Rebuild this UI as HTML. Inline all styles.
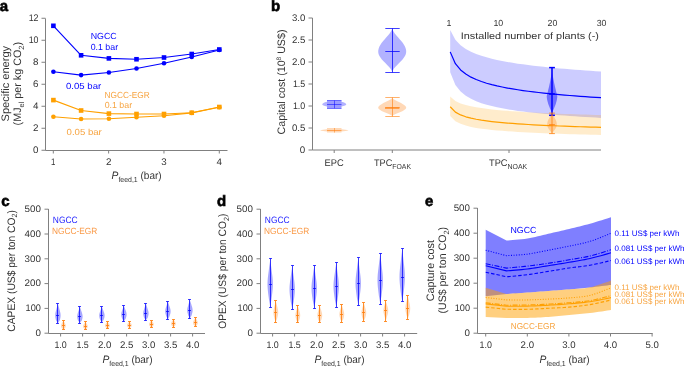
<!DOCTYPE html>
<html><head><meta charset="utf-8"><style>
html,body{margin:0;padding:0;background:#fff;width:685px;height:368px;overflow:hidden}
svg{display:block;will-change:transform;text-rendering:geometricPrecision;font-family:"Liberation Sans",sans-serif}
</style></head><body>
<svg width="685" height="368" viewBox="0 0 685 368">
<rect width="685" height="368" fill="#fff"/>
<text x="-0.2" y="10.9" font-size="15" fill="#000" font-weight="bold" style="stroke:#000;stroke-width:0.6">a</text>
<line x1="45.5" y1="18.5" x2="45.5" y2="150.5" stroke="#808080" stroke-width="1" />
<line x1="45.5" y1="150.5" x2="227.5" y2="150.5" stroke="#808080" stroke-width="1" />
<line x1="41.5" y1="150.25" x2="45.5" y2="150.25" stroke="#808080" stroke-width="1" />
<text x="38.5" y="153.05" font-size="9.5" fill="#333333" text-anchor="end" textLength="5.45" lengthAdjust="spacingAndGlyphs">0</text>
<line x1="41.5" y1="128.25" x2="45.5" y2="128.25" stroke="#808080" stroke-width="1" />
<text x="38.5" y="131.05" font-size="9.5" fill="#333333" text-anchor="end" textLength="5.45" lengthAdjust="spacingAndGlyphs">2</text>
<line x1="41.5" y1="106.25" x2="45.5" y2="106.25" stroke="#808080" stroke-width="1" />
<text x="38.5" y="109.05" font-size="9.5" fill="#333333" text-anchor="end" textLength="5.45" lengthAdjust="spacingAndGlyphs">4</text>
<line x1="41.5" y1="84.25" x2="45.5" y2="84.25" stroke="#808080" stroke-width="1" />
<text x="38.5" y="87.05" font-size="9.5" fill="#333333" text-anchor="end" textLength="5.45" lengthAdjust="spacingAndGlyphs">6</text>
<line x1="41.5" y1="62.25" x2="45.5" y2="62.25" stroke="#808080" stroke-width="1" />
<text x="38.5" y="65.05" font-size="9.5" fill="#333333" text-anchor="end" textLength="5.45" lengthAdjust="spacingAndGlyphs">8</text>
<line x1="41.5" y1="40.25" x2="45.5" y2="40.25" stroke="#808080" stroke-width="1" />
<text x="38.5" y="43.05" font-size="9.5" fill="#333333" text-anchor="end" textLength="9.85" lengthAdjust="spacingAndGlyphs">10</text>
<line x1="41.5" y1="18.25" x2="45.5" y2="18.25" stroke="#808080" stroke-width="1" />
<text x="38.5" y="21.05" font-size="9.5" fill="#333333" text-anchor="end" textLength="9.85" lengthAdjust="spacingAndGlyphs">12</text>
<line x1="53.3" y1="150.5" x2="53.3" y2="153.5" stroke="#808080" stroke-width="1" />
<text x="53.3" y="164.6" font-size="9.5" fill="#333333" text-anchor="middle" textLength="4.4" lengthAdjust="spacingAndGlyphs">1</text>
<line x1="108.63" y1="150.5" x2="108.63" y2="153.5" stroke="#808080" stroke-width="1" />
<text x="108.63" y="164.6" font-size="9.5" fill="#333333" text-anchor="middle" textLength="5.45" lengthAdjust="spacingAndGlyphs">2</text>
<line x1="163.96" y1="150.5" x2="163.96" y2="153.5" stroke="#808080" stroke-width="1" />
<text x="163.96" y="164.6" font-size="9.5" fill="#333333" text-anchor="middle" textLength="5.45" lengthAdjust="spacingAndGlyphs">3</text>
<line x1="219.29" y1="150.5" x2="219.29" y2="153.5" stroke="#808080" stroke-width="1" />
<text x="219.29" y="164.6" font-size="9.5" fill="#333333" text-anchor="middle" textLength="5.45" lengthAdjust="spacingAndGlyphs">4</text>
<text x="111.6" y="179.2" font-size="10" fill="#333333" textLength="50" lengthAdjust="spacingAndGlyphs"><tspan font-style="italic" font-size="10.8">P</tspan><tspan font-size="7.3" dy="3.2">feed,1</tspan><tspan dy="-3.2" font-size="10.5"> (bar)</tspan></text>
<text x="9.2" y="83.65" font-size="10.8" fill="#333333" text-anchor="middle" textLength="75.5" lengthAdjust="spacingAndGlyphs" transform="rotate(-90 9.2 83.65)">Specific energy</text>
<text x="20.8" y="83.65" font-size="10.8" fill="#333333" text-anchor="middle" textLength="83.5" lengthAdjust="spacingAndGlyphs" transform="rotate(-90 20.8 83.65)">(MJ<tspan font-size="7.5" dy="3.5">el</tspan><tspan dy="-3.5"> per kg CO</tspan><tspan font-size="7.5" dy="3.5">2</tspan><tspan dy="-3.5">)</tspan></text>
<polyline points="53.4,25.8 81.1,55.3 108.9,58.4 136.5,59.25 164,57.5 191.75,54 219.3,49.5" fill="none" stroke="#0000ff" stroke-width="1.15" stroke-linejoin="round" />
<rect x="51.1" y="23.5" width="4.6" height="4.6" fill="#0000ff"/>
<rect x="78.8" y="53" width="4.6" height="4.6" fill="#0000ff"/>
<rect x="106.6" y="56.1" width="4.6" height="4.6" fill="#0000ff"/>
<rect x="134.2" y="56.95" width="4.6" height="4.6" fill="#0000ff"/>
<rect x="161.7" y="55.2" width="4.6" height="4.6" fill="#0000ff"/>
<rect x="189.45" y="51.7" width="4.6" height="4.6" fill="#0000ff"/>
<rect x="217" y="47.2" width="4.6" height="4.6" fill="#0000ff"/>
<polyline points="53.4,71.7 81.1,75.1 108.9,72.5 136.5,68.5 164,63.25 191.75,57 219.3,50" fill="none" stroke="#0000ff" stroke-width="1.15" stroke-linejoin="round" />
<circle cx="53.4" cy="71.7" r="2.3" fill="#0000ff"/>
<circle cx="81.1" cy="75.1" r="2.3" fill="#0000ff"/>
<circle cx="108.9" cy="72.5" r="2.3" fill="#0000ff"/>
<circle cx="136.5" cy="68.5" r="2.3" fill="#0000ff"/>
<circle cx="164" cy="63.25" r="2.3" fill="#0000ff"/>
<circle cx="191.75" cy="57" r="2.3" fill="#0000ff"/>
<circle cx="219.3" cy="50" r="2.3" fill="#0000ff"/>
<polyline points="53.4,100.1 81.1,110.5 108.9,113.6 136.5,114 164,114 191.75,112.75 219.3,107" fill="none" stroke="#ffa000" stroke-width="1.15" stroke-linejoin="round" />
<rect x="51.1" y="97.8" width="4.6" height="4.6" fill="#ffa000"/>
<rect x="78.8" y="108.2" width="4.6" height="4.6" fill="#ffa000"/>
<rect x="106.6" y="111.3" width="4.6" height="4.6" fill="#ffa000"/>
<rect x="134.2" y="111.7" width="4.6" height="4.6" fill="#ffa000"/>
<rect x="161.7" y="111.7" width="4.6" height="4.6" fill="#ffa000"/>
<rect x="189.45" y="110.45" width="4.6" height="4.6" fill="#ffa000"/>
<rect x="217" y="104.7" width="4.6" height="4.6" fill="#ffa000"/>
<polyline points="53.4,116.75 81.1,119 108.9,118.7 136.5,117.25 164,115.75 191.75,112.9 219.3,107.2" fill="none" stroke="#ffa000" stroke-width="1.15" stroke-linejoin="round" />
<circle cx="53.4" cy="116.75" r="2.3" fill="#ffa000"/>
<circle cx="81.1" cy="119" r="2.3" fill="#ffa000"/>
<circle cx="108.9" cy="118.7" r="2.3" fill="#ffa000"/>
<circle cx="136.5" cy="117.25" r="2.3" fill="#ffa000"/>
<circle cx="164" cy="115.75" r="2.3" fill="#ffa000"/>
<circle cx="191.75" cy="112.9" r="2.3" fill="#ffa000"/>
<circle cx="219.3" cy="107.2" r="2.3" fill="#ffa000"/>
<text x="90.7" y="39.4" font-size="8.8" fill="#0000ff">NGCC</text>
<text x="90.7" y="49.8" font-size="8.8" fill="#0000ff">0.1 bar</text>
<text x="66" y="88.8" font-size="8.8" fill="#0000ff" textLength="35.2" lengthAdjust="spacingAndGlyphs">0.05 bar</text>
<text x="104.6" y="97.7" font-size="8.8" fill="#f7a440" textLength="45.2" lengthAdjust="spacingAndGlyphs">NGCC-EGR</text>
<text x="104.7" y="107.8" font-size="8.8" fill="#f7a440">0.1 bar</text>
<text x="66.6" y="135.2" font-size="8.8" fill="#f7a440" textLength="35.2" lengthAdjust="spacingAndGlyphs">0.05 bar</text>
<text x="270.9" y="11" font-size="15" fill="#000" font-weight="bold" style="stroke:#000;stroke-width:0.6">b</text>
<line x1="312.5" y1="18" x2="312.5" y2="150" stroke="#808080" stroke-width="1" />
<line x1="312.5" y1="150" x2="601" y2="150" stroke="#808080" stroke-width="1" />
<line x1="308.5" y1="150" x2="312.5" y2="150" stroke="#808080" stroke-width="1" />
<text x="305.3" y="152.8" font-size="9.5" fill="#333333" text-anchor="end" textLength="5.45" lengthAdjust="spacingAndGlyphs">0</text>
<line x1="308.5" y1="128" x2="312.5" y2="128" stroke="#808080" stroke-width="1" />
<text x="305.3" y="130.8" font-size="9.5" fill="#333333" text-anchor="end" textLength="13.4" lengthAdjust="spacingAndGlyphs">0.5</text>
<line x1="308.5" y1="106" x2="312.5" y2="106" stroke="#808080" stroke-width="1" />
<text x="305.3" y="108.8" font-size="9.5" fill="#333333" text-anchor="end" textLength="12.35" lengthAdjust="spacingAndGlyphs">1.0</text>
<line x1="308.5" y1="84" x2="312.5" y2="84" stroke="#808080" stroke-width="1" />
<text x="305.3" y="86.8" font-size="9.5" fill="#333333" text-anchor="end" textLength="12.35" lengthAdjust="spacingAndGlyphs">1.5</text>
<line x1="308.5" y1="62" x2="312.5" y2="62" stroke="#808080" stroke-width="1" />
<text x="305.3" y="64.8" font-size="9.5" fill="#333333" text-anchor="end" textLength="13.4" lengthAdjust="spacingAndGlyphs">2.0</text>
<line x1="308.5" y1="40" x2="312.5" y2="40" stroke="#808080" stroke-width="1" />
<text x="305.3" y="42.8" font-size="9.5" fill="#333333" text-anchor="end" textLength="13.4" lengthAdjust="spacingAndGlyphs">2.5</text>
<line x1="308.5" y1="18" x2="312.5" y2="18" stroke="#808080" stroke-width="1" />
<text x="305.3" y="20.8" font-size="9.5" fill="#333333" text-anchor="end" textLength="13.4" lengthAdjust="spacingAndGlyphs">3.0</text>
<line x1="334.2" y1="150" x2="334.2" y2="153" stroke="#808080" stroke-width="1" />
<line x1="392.3" y1="150" x2="392.3" y2="153" stroke="#808080" stroke-width="1" />
<line x1="509" y1="150" x2="509" y2="153" stroke="#808080" stroke-width="1" />
<text x="334.2" y="165.6" font-size="9.6" fill="#333333" text-anchor="middle" textLength="19.2" lengthAdjust="spacingAndGlyphs">EPC</text>
<text x="374" y="165.6" font-size="9.6" fill="#333333" textLength="37" lengthAdjust="spacingAndGlyphs">TPC<tspan font-size="7.2" dy="3">FOAK</tspan></text>
<text x="489" y="165.6" font-size="9.6" fill="#333333" textLength="38.2" lengthAdjust="spacingAndGlyphs">TPC<tspan font-size="7.2" dy="3">NOAK</tspan></text>
<text x="284.8" y="82" font-size="10.8" fill="#333333" text-anchor="middle" textLength="105" lengthAdjust="spacingAndGlyphs" transform="rotate(-90 284.8 82)">Capital cost (10<tspan font-size="6.5" dy="-3.8">8</tspan><tspan dy="3.8"> US$)</tspan></text>
<polygon points="450.2,29.88 455.4,39.85 460.6,45.29 465.8,48.99 471,51.77 476.2,53.98 481.4,55.82 486.6,57.37 491.8,58.73 497,59.92 502.2,60.99 507.4,61.95 512.6,62.83 517.8,63.63 523,64.37 528.2,65.06 533.4,65.7 538.6,66.3 543.8,66.87 549,67.4 554.2,67.9 559.4,68.38 564.6,68.83 569.8,69.26 575,69.67 580.2,70.06 585.4,70.44 590.6,70.8 595.8,71.15 601,71.48 601,117.91 595.8,117.62 590.6,117.33 585.4,117.02 580.2,116.69 575,116.35 569.8,115.99 564.6,115.61 559.4,115.21 554.2,114.79 549,114.34 543.8,113.86 538.6,113.35 533.4,112.8 528.2,112.21 523,111.57 517.8,110.88 512.6,110.11 507.4,109.28 502.2,108.34 497,107.3 491.8,106.11 486.6,104.75 481.4,103.15 476.2,101.23 471,98.87 465.8,95.81 460.6,91.6 455.4,85.11 450.2,72.3" fill="#0000ff" fill-opacity="0.2"/>
<polygon points="450.2,96.58 455.4,101.02 460.6,103.44 465.8,105.08 471,106.32 476.2,107.3 481.4,108.12 486.6,108.81 491.8,109.41 497,109.94 502.2,110.42 507.4,110.85 512.6,111.24 517.8,111.59 523,111.92 528.2,112.23 533.4,112.51 538.6,112.78 543.8,113.03 549,113.27 554.2,113.49 559.4,113.7 564.6,113.9 569.8,114.1 575,114.28 580.2,114.45 585.4,114.62 590.6,114.78 595.8,114.94 601,115.08 601,134.96 595.8,134.84 590.6,134.71 585.4,134.58 580.2,134.44 575,134.29 569.8,134.14 564.6,133.97 559.4,133.8 554.2,133.62 549,133.43 543.8,133.22 538.6,133 533.4,132.77 528.2,132.52 523,132.24 517.8,131.95 512.6,131.62 507.4,131.27 502.2,130.87 497,130.43 491.8,129.93 486.6,129.35 481.4,128.68 476.2,127.88 471,126.89 465.8,125.61 460.6,123.87 455.4,121.2 450.2,115.99" fill="#ffa000" fill-opacity="0.2"/>
<polyline points="450.2,51.88 455.4,63.69 460.6,69.93 465.8,74.08 471,77.15 476.2,79.56 481.4,81.54 486.6,83.21 491.8,84.65 497,85.91 502.2,87.03 507.4,88.04 512.6,88.95 517.8,89.78 523,90.55 528.2,91.25 533.4,91.91 538.6,92.52 543.8,93.09 549,93.63 554.2,94.13 559.4,94.61 564.6,95.07 569.8,95.5 575,95.91 580.2,96.3 585.4,96.67 590.6,97.03 595.8,97.37 601,97.7" fill="none" stroke="#0000ff" stroke-width="1.2" stroke-linejoin="round" />
<polyline points="450.2,106.79 455.4,112.12 460.6,114.93 465.8,116.8 471,118.18 476.2,119.26 481.4,120.15 486.6,120.89 491.8,121.54 497,122.1 502.2,122.6 507.4,123.05 512.6,123.46 517.8,123.83 523,124.17 528.2,124.49 533.4,124.78 538.6,125.05 543.8,125.31 549,125.54 554.2,125.77 559.4,125.98 564.6,126.19 569.8,126.38 575,126.56 580.2,126.73 585.4,126.9 590.6,127.06 595.8,127.21 601,127.36" fill="none" stroke="#ffa000" stroke-width="1.2" stroke-linejoin="round" />
<text x="449" y="25.8" font-size="8.8" fill="#333333" text-anchor="middle">1</text>
<text x="498.3" y="25.8" font-size="8.8" fill="#333333" text-anchor="middle">10</text>
<text x="552.5" y="25.8" font-size="8.8" fill="#333333" text-anchor="middle">20</text>
<text x="601.6" y="25.8" font-size="8.8" fill="#333333" text-anchor="middle">30</text>
<text x="460.7" y="38.5" font-size="9.5" fill="#333333" textLength="138.3" lengthAdjust="spacingAndGlyphs">Installed number of plants (-)</text>
<path d="M327,100.5 H341.5 V101.8 A14.1,3.2 0 0 1 341.5,106.6 V108.3 H327 V106.6 A14.1,3.2 0 0 1 327,101.8 Z" fill="#0000ff" fill-opacity="0.3"/>
<rect x="327" y="100.5" width="14.5" height="7.8" fill="#0000ff" fill-opacity="0.12"/>
<line x1="334.5" y1="100.5" x2="334.5" y2="108.3" stroke="#0000ff" stroke-width="1" stroke-opacity="0.5"/>
<line x1="327" y1="100.5" x2="341.5" y2="100.5" stroke="#0000ff" stroke-width="1" stroke-opacity="0.5"/>
<line x1="327" y1="108.5" x2="341.5" y2="108.5" stroke="#0000ff" stroke-width="1" stroke-opacity="0.5"/>
<line x1="327" y1="104.5" x2="341.5" y2="104.5" stroke="#0000ff" stroke-width="1" stroke-opacity="0.5"/>
<path d="M327,128 L341.5,128 L341.5,129.3 C344,129.6 347,130 348.5,130.4 C347,130.8 344,131.2 341.5,131.5 L341.5,132.6 L327,132.6 L327,131.5 C324.5,131.2 321.5,130.8 320,130.4 C321.5,130 324.5,129.6 327,129.3 Z" fill="#ff7f0e" fill-opacity="0.3"/>
<line x1="327" y1="130.5" x2="341.5" y2="130.5" stroke="#ff7f0e" stroke-width="1" stroke-opacity="0.6"/>
<line x1="334.5" y1="128" x2="334.5" y2="132.6" stroke="#ff7f0e" stroke-width="1" stroke-opacity="0.5"/>
<polygon points="392.2,28.15 392.69,29.99 393.67,31.83 394.96,33.67 396.44,35.51 398.04,37.35 399.66,39.19 401.24,41.03 402.69,42.87 403.95,44.71 404.97,46.55 405.7,48.39 406.11,50.22 406.18,52.06 405.85,53.9 405.1,55.74 403.98,57.58 402.54,59.42 400.88,61.26 399.08,63.1 397.25,64.94 395.51,66.78 393.97,68.62 392.79,70.46 392.2,72.3 392.2,72.3 391.61,70.46 390.43,68.62 388.89,66.78 387.15,64.94 385.32,63.1 383.52,61.26 381.86,59.42 380.42,57.58 379.3,55.74 378.55,53.9 378.22,52.06 378.29,50.22 378.7,48.39 379.43,46.55 380.45,44.71 381.71,42.87 383.16,41.03 384.74,39.19 386.36,37.35 387.96,35.51 389.44,33.67 390.73,31.83 391.71,29.99 392.2,28.15" fill="#0000ff" fill-opacity="0.3"/>
<line x1="392.5" y1="28.5" x2="392.5" y2="72.5" stroke="#0000ff" stroke-width="1" stroke-opacity="0.75"/>
<line x1="385.3" y1="28.5" x2="399.7" y2="28.5" stroke="#0000ff" stroke-width="1" stroke-opacity="0.75"/>
<line x1="385.3" y1="72.5" x2="399.7" y2="72.5" stroke="#0000ff" stroke-width="1" stroke-opacity="0.75"/>
<line x1="385.3" y1="51.5" x2="399.7" y2="51.5" stroke="#0000ff" stroke-width="1" stroke-opacity="0.75"/>
<polygon points="392.2,97.7 392.68,98.48 393.63,99.25 394.88,100.03 396.33,100.8 397.89,101.58 399.48,102.35 401.04,103.12 402.48,103.9 403.76,104.67 404.8,105.45 405.58,106.22 406.05,107 406.2,107.78 405.96,108.55 405.27,109.33 404.19,110.1 402.78,110.88 401.11,111.65 399.28,112.42 397.41,113.2 395.61,113.97 394.03,114.75 392.81,115.53 392.2,116.3 392.2,116.3 391.59,115.53 390.37,114.75 388.79,113.97 386.99,113.2 385.12,112.42 383.29,111.65 381.62,110.88 380.21,110.1 379.13,109.33 378.44,108.55 378.2,107.78 378.35,107 378.82,106.22 379.6,105.45 380.64,104.67 381.92,103.9 383.36,103.12 384.92,102.35 386.51,101.58 388.07,100.8 389.52,100.03 390.77,99.25 391.72,98.48 392.2,97.7" fill="#ff7f0e" fill-opacity="0.3"/>
<line x1="392.5" y1="97.5" x2="392.5" y2="116.5" stroke="#ff7f0e" stroke-width="1" stroke-opacity="0.6"/>
<line x1="385.3" y1="97.5" x2="399.7" y2="97.5" stroke="#ff7f0e" stroke-width="1" stroke-opacity="0.6"/>
<line x1="385.3" y1="116.5" x2="399.7" y2="116.5" stroke="#ff7f0e" stroke-width="1" stroke-opacity="0.6"/>
<line x1="385.3" y1="107.5" x2="399.7" y2="107.5" stroke="#ff7f0e" stroke-width="1" stroke-opacity="0.6"/>
<line x1="385" y1="108.1" x2="399.4" y2="108.1" stroke="#ff7f0e" stroke-width="1.6" stroke-opacity="0.7"/>
<polygon points="552.4,67.6 552.4,68.39 552.4,69.19 552.4,69.98 552.4,70.78 552.4,71.57 552.42,72.37 552.5,73.16 552.59,73.96 552.69,74.75 552.81,75.55 552.93,76.34 553.06,77.14 553.2,77.94 553.34,78.73 553.48,79.52 553.64,80.32 553.79,81.11 553.95,81.91 554.12,82.7 554.28,83.5 554.45,84.29 554.63,85.09 554.81,85.88 554.99,86.68 555.17,87.47 555.36,88.27 555.55,89.06 555.74,89.86 555.93,90.66 556.13,91.45 556.33,92.25 556.53,93.04 556.73,93.83 556.94,94.63 557.15,95.42 557.3,96.22 557.25,97.02 557.17,97.81 557.06,98.6 556.92,99.4 556.76,100.19 556.57,100.99 556.37,101.78 556.14,102.58 555.9,103.38 555.65,104.17 555.37,104.97 555.08,105.76 554.77,106.55 554.45,107.35 554.12,108.14 553.77,108.94 553.41,109.73 553.03,110.53 552.64,111.32 552,112.12 552,112.91 552,113.71 552,114.5 552,115.3 552,115.3 552,114.5 552,113.71 552,112.91 552,112.12 551.36,111.32 550.97,110.53 550.59,109.73 550.23,108.94 549.88,108.14 549.55,107.35 549.23,106.55 548.92,105.76 548.63,104.97 548.35,104.17 548.1,103.38 547.86,102.58 547.63,101.78 547.43,100.99 547.24,100.19 547.08,99.4 546.94,98.6 546.83,97.81 546.75,97.02 546.7,96.22 546.85,95.42 547.06,94.63 547.27,93.83 547.47,93.04 547.67,92.25 547.87,91.45 548.07,90.66 548.26,89.86 548.45,89.06 548.64,88.27 548.83,87.47 549.01,86.68 549.19,85.88 549.37,85.09 549.55,84.29 549.72,83.5 549.88,82.7 550.05,81.91 550.21,81.11 550.36,80.32 550.52,79.52 550.66,78.73 550.8,77.94 550.94,77.14 551.07,76.34 551.19,75.55 551.31,74.75 551.41,73.96 551.5,73.16 551.58,72.37 551.6,71.57 551.6,70.78 551.6,69.98 551.6,69.19 551.6,68.39 551.6,67.6" fill="#0000ff" fill-opacity="0.45"/>
<line x1="552" y1="67.6" x2="552" y2="115.3" stroke="#0000ff" stroke-width="1.5" />
<line x1="549.1" y1="67.6" x2="554.9" y2="67.6" stroke="#0000ff" stroke-width="1.5" />
<line x1="549.1" y1="115.3" x2="554.9" y2="115.3" stroke="#0000ff" stroke-width="1.5" />
<line x1="549.1" y1="94" x2="554.9" y2="94" stroke="#0000ff" stroke-width="1.5" />
<polygon points="552,113.1 552.2,113.61 552.45,114.12 552.73,114.64 553.03,115.15 553.33,115.66 553.64,116.17 553.94,116.69 554.25,117.2 554.54,117.71 554.83,118.22 555.11,118.74 555.37,119.25 555.61,119.76 555.84,120.27 556.05,120.79 556.23,121.3 556.39,121.81 556.53,122.32 556.63,122.84 556.72,123.35 556.77,123.86 556.8,124.38 556.79,124.89 556.74,125.4 556.65,125.91 556.51,126.42 556.33,126.94 556.11,127.45 555.85,127.96 555.56,128.47 555.24,128.99 554.89,129.5 554.53,130.01 554.15,130.53 553.76,131.04 553.36,131.55 552.98,132.06 552.6,132.57 552.26,133.09 552,133.6 552,133.6 551.74,133.09 551.4,132.57 551.02,132.06 550.64,131.55 550.24,131.04 549.85,130.53 549.47,130.01 549.11,129.5 548.76,128.99 548.44,128.47 548.15,127.96 547.89,127.45 547.67,126.94 547.49,126.42 547.35,125.91 547.26,125.4 547.21,124.89 547.2,124.38 547.23,123.86 547.28,123.35 547.37,122.84 547.47,122.32 547.61,121.81 547.77,121.3 547.95,120.79 548.16,120.27 548.39,119.76 548.63,119.25 548.89,118.74 549.17,118.22 549.46,117.71 549.75,117.2 550.06,116.69 550.36,116.17 550.67,115.66 550.97,115.15 551.27,114.64 551.55,114.12 551.8,113.61 552,113.1" fill="#ff7f0e" fill-opacity="0.3"/>
<line x1="552" y1="113.1" x2="552" y2="133.6" stroke="#ff7f0e" stroke-width="1" stroke-opacity="0.8"/>
<line x1="549.1" y1="113.1" x2="554.9" y2="113.1" stroke="#ff7f0e" stroke-width="1" stroke-opacity="0.8"/>
<line x1="549.1" y1="133.6" x2="554.9" y2="133.6" stroke="#ff7f0e" stroke-width="1" stroke-opacity="0.8"/>
<line x1="549.1" y1="124.6" x2="554.9" y2="124.6" stroke="#ff7f0e" stroke-width="1" stroke-opacity="0.8"/>
<text x="1.2" y="205.8" font-size="15" fill="#000" font-weight="bold" style="stroke:#000;stroke-width:0.6">c</text>
<line x1="48.5" y1="209" x2="48.5" y2="333.5" stroke="#808080" stroke-width="1" />
<line x1="48.5" y1="333.5" x2="205" y2="333.5" stroke="#808080" stroke-width="1" />
<line x1="44.5" y1="333.2" x2="48.5" y2="333.2" stroke="#808080" stroke-width="1" />
<text x="40.9" y="336" font-size="9.5" fill="#333333" text-anchor="end" textLength="5.45" lengthAdjust="spacingAndGlyphs">0</text>
<line x1="44.5" y1="308.4" x2="48.5" y2="308.4" stroke="#808080" stroke-width="1" />
<text x="40.9" y="311.2" font-size="9.5" fill="#333333" text-anchor="end" textLength="15.3" lengthAdjust="spacingAndGlyphs">100</text>
<line x1="44.5" y1="283.6" x2="48.5" y2="283.6" stroke="#808080" stroke-width="1" />
<text x="40.9" y="286.4" font-size="9.5" fill="#333333" text-anchor="end" textLength="16.35" lengthAdjust="spacingAndGlyphs">200</text>
<line x1="44.5" y1="258.8" x2="48.5" y2="258.8" stroke="#808080" stroke-width="1" />
<text x="40.9" y="261.6" font-size="9.5" fill="#333333" text-anchor="end" textLength="16.35" lengthAdjust="spacingAndGlyphs">300</text>
<line x1="44.5" y1="234" x2="48.5" y2="234" stroke="#808080" stroke-width="1" />
<text x="40.9" y="236.8" font-size="9.5" fill="#333333" text-anchor="end" textLength="16.35" lengthAdjust="spacingAndGlyphs">400</text>
<line x1="44.5" y1="209.2" x2="48.5" y2="209.2" stroke="#808080" stroke-width="1" />
<text x="40.9" y="212" font-size="9.5" fill="#333333" text-anchor="end" textLength="16.35" lengthAdjust="spacingAndGlyphs">500</text>
<line x1="60.6" y1="333.5" x2="60.6" y2="336.5" stroke="#808080" stroke-width="1" />
<text x="60.6" y="347.9" font-size="9.5" fill="#333333" text-anchor="middle" textLength="12.35" lengthAdjust="spacingAndGlyphs">1.0</text>
<line x1="82.6" y1="333.5" x2="82.6" y2="336.5" stroke="#808080" stroke-width="1" />
<text x="82.6" y="347.9" font-size="9.5" fill="#333333" text-anchor="middle" textLength="12.35" lengthAdjust="spacingAndGlyphs">1.5</text>
<line x1="104.6" y1="333.5" x2="104.6" y2="336.5" stroke="#808080" stroke-width="1" />
<text x="104.6" y="347.9" font-size="9.5" fill="#333333" text-anchor="middle" textLength="13.4" lengthAdjust="spacingAndGlyphs">2.0</text>
<line x1="126.6" y1="333.5" x2="126.6" y2="336.5" stroke="#808080" stroke-width="1" />
<text x="126.6" y="347.9" font-size="9.5" fill="#333333" text-anchor="middle" textLength="13.4" lengthAdjust="spacingAndGlyphs">2.5</text>
<line x1="148.6" y1="333.5" x2="148.6" y2="336.5" stroke="#808080" stroke-width="1" />
<text x="148.6" y="347.9" font-size="9.5" fill="#333333" text-anchor="middle" textLength="13.4" lengthAdjust="spacingAndGlyphs">3.0</text>
<line x1="170.6" y1="333.5" x2="170.6" y2="336.5" stroke="#808080" stroke-width="1" />
<text x="170.6" y="347.9" font-size="9.5" fill="#333333" text-anchor="middle" textLength="13.4" lengthAdjust="spacingAndGlyphs">3.5</text>
<line x1="192.6" y1="333.5" x2="192.6" y2="336.5" stroke="#808080" stroke-width="1" />
<text x="192.6" y="347.9" font-size="9.5" fill="#333333" text-anchor="middle" textLength="13.4" lengthAdjust="spacingAndGlyphs">4.0</text>
<text x="102.5" y="363.1" font-size="10" fill="#333333" textLength="50" lengthAdjust="spacingAndGlyphs"><tspan font-style="italic" font-size="10.8">P</tspan><tspan font-size="7.3" dy="3.2">feed,1</tspan><tspan dy="-3.2" font-size="10.5"> (bar)</tspan></text>
<text x="14.6" y="270.9" font-size="10.8" fill="#333333" text-anchor="middle" textLength="121.5" lengthAdjust="spacingAndGlyphs" transform="rotate(-90 14.6 270.9)">CAPEX (US$ per ton CO<tspan font-size="7.5" dy="2.5">2</tspan><tspan dy="-2.5">)</tspan></text>
<text x="52.8" y="223" font-size="9.2" fill="#2222ff" textLength="24.8" lengthAdjust="spacingAndGlyphs">NGCC</text>
<text x="52" y="233.6" font-size="9.0" fill="#fa9a48" textLength="45.3" lengthAdjust="spacingAndGlyphs">NGCC-EGR</text>
<polygon points="57.94,303.3 58.06,304.13 58.24,304.97 58.51,305.8 58.75,306.63 58.95,307.47 59.17,308.3 59.4,309.13 59.63,309.97 59.86,310.8 60.08,311.63 60.27,312.47 60.43,313.3 60.54,314.13 60.59,314.97 60.59,315.8 60.54,316.63 60.43,317.47 60.28,318.3 60.09,319.13 59.87,319.97 59.47,320.8 58.88,321.63 58.41,322.47 58.06,323.3 57.74,323.3 57.39,322.47 56.92,321.63 56.33,320.8 55.93,319.97 55.71,319.13 55.52,318.3 55.37,317.47 55.26,316.63 55.21,315.8 55.21,314.97 55.26,314.13 55.37,313.3 55.53,312.47 55.72,311.63 55.94,310.8 56.17,309.97 56.4,309.13 56.63,308.3 56.85,307.47 57.05,306.63 57.29,305.8 57.56,304.97 57.74,304.13 57.86,303.3" fill="#0000ff" fill-opacity="0.35"/>
<line x1="57.5" y1="303.5" x2="57.5" y2="323.5" stroke="#0000ff" stroke-width="1" stroke-opacity="0.75"/>
<line x1="56" y1="303.5" x2="59" y2="303.5" stroke="#0000ff" stroke-width="1" stroke-opacity="0.75"/>
<line x1="56" y1="323.5" x2="59" y2="323.5" stroke="#0000ff" stroke-width="1" stroke-opacity="0.75"/>
<line x1="56" y1="315.5" x2="59" y2="315.5" stroke="#0000ff" stroke-width="1" stroke-opacity="0.75"/>
<polygon points="79.94,306.3 80.06,307 80.24,307.69 80.5,308.39 80.74,309.08 80.94,309.78 81.15,310.48 81.38,311.17 81.61,311.87 81.85,312.56 82.06,313.26 82.25,313.95 82.41,314.65 82.53,315.35 82.59,316.04 82.6,316.74 82.55,317.43 82.45,318.13 82.31,318.82 82.13,319.52 81.92,320.22 81.51,320.91 80.91,321.61 80.43,322.3 80.07,323 79.73,323 79.37,322.3 78.89,321.61 78.29,320.91 77.88,320.22 77.67,319.52 77.49,318.82 77.35,318.13 77.25,317.43 77.2,316.74 77.21,316.04 77.27,315.35 77.39,314.65 77.55,313.95 77.74,313.26 77.95,312.56 78.19,311.87 78.42,311.17 78.65,310.48 78.86,309.78 79.06,309.08 79.3,308.39 79.56,307.69 79.74,307 79.86,306.3" fill="#0000ff" fill-opacity="0.35"/>
<line x1="79.5" y1="306.5" x2="79.5" y2="323.5" stroke="#0000ff" stroke-width="1" stroke-opacity="0.75"/>
<line x1="78" y1="306.5" x2="81" y2="306.5" stroke="#0000ff" stroke-width="1" stroke-opacity="0.75"/>
<line x1="78" y1="323.5" x2="81" y2="323.5" stroke="#0000ff" stroke-width="1" stroke-opacity="0.75"/>
<line x1="78" y1="316.5" x2="81" y2="316.5" stroke="#0000ff" stroke-width="1" stroke-opacity="0.75"/>
<polygon points="101.94,306.3 102.06,306.97 102.25,307.64 102.53,308.31 102.79,308.98 103,309.65 103.23,310.32 103.47,311 103.72,311.67 103.96,312.34 104.18,313.01 104.36,313.68 104.49,314.35 104.58,315.02 104.6,315.69 104.56,316.36 104.46,317.03 104.31,317.7 104.12,318.38 103.9,319.05 103.65,319.72 103.26,320.39 102.72,321.06 102.32,321.73 102.02,322.4 101.78,322.4 101.48,321.73 101.08,321.06 100.54,320.39 100.15,319.72 99.9,319.05 99.68,318.38 99.49,317.7 99.34,317.03 99.24,316.36 99.2,315.69 99.22,315.02 99.31,314.35 99.44,313.68 99.62,313.01 99.84,312.34 100.08,311.67 100.33,311 100.57,310.32 100.8,309.65 101.01,308.98 101.27,308.31 101.55,307.64 101.74,306.97 101.86,306.3" fill="#0000ff" fill-opacity="0.35"/>
<line x1="101.5" y1="306.5" x2="101.5" y2="322.5" stroke="#0000ff" stroke-width="1" stroke-opacity="0.75"/>
<line x1="100" y1="306.5" x2="103" y2="306.5" stroke="#0000ff" stroke-width="1" stroke-opacity="0.75"/>
<line x1="100" y1="322.5" x2="103" y2="322.5" stroke="#0000ff" stroke-width="1" stroke-opacity="0.75"/>
<line x1="100" y1="315.5" x2="103" y2="315.5" stroke="#0000ff" stroke-width="1" stroke-opacity="0.75"/>
<polygon points="123.94,305.4 124.06,306.07 124.25,306.74 124.54,307.41 124.8,308.08 125.02,308.75 125.26,309.42 125.51,310.1 125.76,310.77 126,311.44 126.22,312.11 126.4,312.78 126.52,313.45 126.59,314.12 126.59,314.79 126.53,315.46 126.42,316.13 126.24,316.8 126.03,317.48 125.8,318.15 125.55,318.82 125.15,319.49 124.65,320.16 124.27,320.83 124.01,321.5 123.79,321.5 123.53,320.83 123.15,320.16 122.65,319.49 122.25,318.82 122,318.15 121.77,317.48 121.56,316.8 121.38,316.13 121.27,315.46 121.21,314.79 121.21,314.12 121.28,313.45 121.4,312.78 121.58,312.11 121.8,311.44 122.04,310.77 122.29,310.1 122.54,309.42 122.78,308.75 123,308.08 123.26,307.41 123.55,306.74 123.74,306.07 123.86,305.4" fill="#0000ff" fill-opacity="0.35"/>
<line x1="123.5" y1="305.5" x2="123.5" y2="321.5" stroke="#0000ff" stroke-width="1" stroke-opacity="0.75"/>
<line x1="122" y1="305.5" x2="125" y2="305.5" stroke="#0000ff" stroke-width="1" stroke-opacity="0.75"/>
<line x1="122" y1="321.5" x2="125" y2="321.5" stroke="#0000ff" stroke-width="1" stroke-opacity="0.75"/>
<line x1="122" y1="314.5" x2="125" y2="314.5" stroke="#0000ff" stroke-width="1" stroke-opacity="0.75"/>
<polygon points="145.94,303.3 146.06,304.01 146.25,304.72 146.52,305.43 146.76,306.13 146.97,306.84 147.19,307.55 147.43,308.26 147.67,308.97 147.9,309.68 148.12,310.38 148.31,311.09 148.45,311.8 148.55,312.51 148.6,313.22 148.58,313.93 148.51,314.63 148.39,315.34 148.22,316.05 148.02,316.76 147.79,317.47 147.39,318.18 146.82,318.88 146.37,319.59 146.05,320.3 145.75,320.3 145.43,319.59 144.98,318.88 144.41,318.18 144.01,317.47 143.78,316.76 143.58,316.05 143.41,315.34 143.29,314.63 143.22,313.93 143.2,313.22 143.25,312.51 143.35,311.8 143.49,311.09 143.68,310.38 143.9,309.68 144.13,308.97 144.37,308.26 144.61,307.55 144.83,306.84 145.04,306.13 145.28,305.43 145.55,304.72 145.74,304.01 145.86,303.3" fill="#0000ff" fill-opacity="0.35"/>
<line x1="145.5" y1="303.5" x2="145.5" y2="320.5" stroke="#0000ff" stroke-width="1" stroke-opacity="0.75"/>
<line x1="144" y1="303.5" x2="147" y2="303.5" stroke="#0000ff" stroke-width="1" stroke-opacity="0.75"/>
<line x1="144" y1="320.5" x2="147" y2="320.5" stroke="#0000ff" stroke-width="1" stroke-opacity="0.75"/>
<line x1="144" y1="313.5" x2="147" y2="313.5" stroke="#0000ff" stroke-width="1" stroke-opacity="0.75"/>
<polygon points="167.94,301.2 168.06,301.96 168.26,302.72 168.55,303.49 168.82,304.25 169.05,305.01 169.3,305.77 169.56,306.54 169.81,307.3 170.05,308.06 170.27,308.82 170.43,309.59 170.55,310.35 170.6,311.11 170.58,311.88 170.5,312.64 170.36,313.4 170.16,314.16 169.93,314.93 169.68,315.69 169.42,316.45 169.04,317.21 168.57,317.98 168.23,318.74 167.99,319.5 167.81,319.5 167.57,318.74 167.23,317.98 166.76,317.21 166.38,316.45 166.12,315.69 165.87,314.93 165.64,314.16 165.44,313.4 165.3,312.64 165.22,311.88 165.2,311.11 165.25,310.35 165.37,309.59 165.53,308.82 165.75,308.06 165.99,307.3 166.24,306.54 166.5,305.77 166.75,305.01 166.98,304.25 167.25,303.49 167.54,302.72 167.74,301.96 167.86,301.2" fill="#0000ff" fill-opacity="0.35"/>
<line x1="167.5" y1="301.5" x2="167.5" y2="319.5" stroke="#0000ff" stroke-width="1" stroke-opacity="0.75"/>
<line x1="166" y1="301.5" x2="169" y2="301.5" stroke="#0000ff" stroke-width="1" stroke-opacity="0.75"/>
<line x1="166" y1="319.5" x2="169" y2="319.5" stroke="#0000ff" stroke-width="1" stroke-opacity="0.75"/>
<line x1="166" y1="311.5" x2="169" y2="311.5" stroke="#0000ff" stroke-width="1" stroke-opacity="0.75"/>
<polygon points="189.94,299.6 190.06,300.39 190.26,301.18 190.54,301.98 190.81,302.77 191.03,303.56 191.27,304.35 191.52,305.14 191.77,305.93 192.01,306.73 192.23,307.52 192.4,308.31 192.53,309.1 192.59,309.89 192.59,310.68 192.53,311.48 192.41,312.27 192.23,313.06 192.02,313.85 191.78,314.64 191.53,315.43 191.14,316.23 190.64,317.02 190.27,317.81 190.01,318.6 189.79,318.6 189.53,317.81 189.16,317.02 188.66,316.23 188.27,315.43 188.02,314.64 187.78,313.85 187.57,313.06 187.39,312.27 187.27,311.48 187.21,310.68 187.21,309.89 187.27,309.1 187.4,308.31 187.57,307.52 187.79,306.73 188.03,305.93 188.28,305.14 188.53,304.35 188.77,303.56 188.99,302.77 189.26,301.98 189.54,301.18 189.74,300.39 189.86,299.6" fill="#0000ff" fill-opacity="0.35"/>
<line x1="189.5" y1="299.5" x2="189.5" y2="318.5" stroke="#0000ff" stroke-width="1" stroke-opacity="0.75"/>
<line x1="188" y1="299.5" x2="191" y2="299.5" stroke="#0000ff" stroke-width="1" stroke-opacity="0.75"/>
<line x1="188" y1="318.5" x2="191" y2="318.5" stroke="#0000ff" stroke-width="1" stroke-opacity="0.75"/>
<line x1="188" y1="310.5" x2="191" y2="310.5" stroke="#0000ff" stroke-width="1" stroke-opacity="0.75"/>
<polygon points="63.44,320.2 63.54,320.58 63.7,320.97 63.94,321.35 64.15,321.73 64.33,322.12 64.52,322.5 64.72,322.88 64.93,323.27 65.14,323.65 65.33,324.03 65.5,324.42 65.64,324.8 65.74,325.18 65.79,325.57 65.8,325.95 65.75,326.33 65.66,326.72 65.53,327.1 65.37,327.48 65.18,327.87 64.82,328.25 64.29,328.63 63.86,329.02 63.55,329.4 63.25,329.4 62.94,329.02 62.51,328.63 61.98,328.25 61.62,327.87 61.43,327.48 61.27,327.1 61.14,326.72 61.05,326.33 61,325.95 61.01,325.57 61.06,325.18 61.16,324.8 61.3,324.42 61.47,324.03 61.66,323.65 61.87,323.27 62.08,322.88 62.28,322.5 62.47,322.12 62.65,321.73 62.86,321.35 63.1,320.97 63.26,320.58 63.36,320.2" fill="#ff7f0e" fill-opacity="0.3"/>
<line x1="63.5" y1="320.5" x2="63.5" y2="329.5" stroke="#ff7f0e" stroke-width="1" stroke-opacity="0.85"/>
<line x1="62" y1="320.5" x2="65" y2="320.5" stroke="#ff7f0e" stroke-width="1" stroke-opacity="0.85"/>
<line x1="62" y1="329.5" x2="65" y2="329.5" stroke="#ff7f0e" stroke-width="1" stroke-opacity="0.85"/>
<line x1="62" y1="325.5" x2="65" y2="325.5" stroke="#ff7f0e" stroke-width="1" stroke-opacity="0.85"/>
<polygon points="85.44,321.5 85.54,321.83 85.7,322.16 85.94,322.49 86.15,322.82 86.33,323.15 86.52,323.48 86.72,323.8 86.93,324.13 87.14,324.46 87.33,324.79 87.5,325.12 87.64,325.45 87.74,325.78 87.79,326.11 87.8,326.44 87.75,326.77 87.66,327.1 87.53,327.42 87.36,327.75 87.17,328.08 86.81,328.41 86.28,328.74 85.86,329.07 85.54,329.4 85.26,329.4 84.94,329.07 84.52,328.74 83.99,328.41 83.63,328.08 83.44,327.75 83.27,327.42 83.14,327.1 83.05,326.77 83,326.44 83.01,326.11 83.06,325.78 83.16,325.45 83.3,325.12 83.47,324.79 83.66,324.46 83.87,324.13 84.08,323.8 84.28,323.48 84.47,323.15 84.65,322.82 84.86,322.49 85.1,322.16 85.26,321.83 85.36,321.5" fill="#ff7f0e" fill-opacity="0.3"/>
<line x1="85.5" y1="321.5" x2="85.5" y2="329.5" stroke="#ff7f0e" stroke-width="1" stroke-opacity="0.85"/>
<line x1="84" y1="321.5" x2="87" y2="321.5" stroke="#ff7f0e" stroke-width="1" stroke-opacity="0.85"/>
<line x1="84" y1="329.5" x2="87" y2="329.5" stroke="#ff7f0e" stroke-width="1" stroke-opacity="0.85"/>
<line x1="84" y1="326.5" x2="87" y2="326.5" stroke="#ff7f0e" stroke-width="1" stroke-opacity="0.85"/>
<polygon points="107.44,321.5 107.54,321.79 107.71,322.08 107.95,322.38 108.18,322.67 108.36,322.96 108.56,323.25 108.78,323.54 109,323.83 109.21,324.12 109.4,324.42 109.56,324.71 109.69,325 109.77,325.29 109.8,325.58 109.78,325.88 109.7,326.17 109.58,326.46 109.42,326.75 109.23,327.04 109.02,327.33 108.66,327.62 108.17,327.92 107.79,328.21 107.52,328.5 107.28,328.5 107.01,328.21 106.63,327.92 106.14,327.62 105.78,327.33 105.57,327.04 105.38,326.75 105.22,326.46 105.1,326.17 105.02,325.88 105,325.58 105.03,325.29 105.11,325 105.24,324.71 105.4,324.42 105.59,324.12 105.8,323.83 106.02,323.54 106.24,323.25 106.44,322.96 106.62,322.67 106.85,322.38 107.09,322.08 107.26,321.79 107.36,321.5" fill="#ff7f0e" fill-opacity="0.3"/>
<line x1="107.5" y1="321.5" x2="107.5" y2="328.5" stroke="#ff7f0e" stroke-width="1" stroke-opacity="0.85"/>
<line x1="106" y1="321.5" x2="109" y2="321.5" stroke="#ff7f0e" stroke-width="1" stroke-opacity="0.85"/>
<line x1="106" y1="328.5" x2="109" y2="328.5" stroke="#ff7f0e" stroke-width="1" stroke-opacity="0.85"/>
<line x1="106" y1="325.5" x2="109" y2="325.5" stroke="#ff7f0e" stroke-width="1" stroke-opacity="0.85"/>
<polygon points="129.44,321.3 129.54,321.58 129.71,321.86 129.95,322.14 130.17,322.42 130.34,322.7 130.54,322.98 130.75,323.25 130.96,323.53 131.17,323.81 131.36,324.09 131.53,324.37 131.66,324.65 131.76,324.93 131.8,325.21 131.79,325.49 131.73,325.77 131.62,326.05 131.48,326.32 131.3,326.6 131.1,326.88 130.74,327.16 130.23,327.44 129.83,327.72 129.53,328 129.27,328 128.97,327.72 128.57,327.44 128.06,327.16 127.7,326.88 127.5,326.6 127.32,326.32 127.18,326.05 127.07,325.77 127.01,325.49 127,325.21 127.04,324.93 127.14,324.65 127.27,324.37 127.44,324.09 127.63,323.81 127.84,323.53 128.05,323.25 128.26,322.98 128.46,322.7 128.63,322.42 128.85,322.14 129.09,321.86 129.26,321.58 129.36,321.3" fill="#ff7f0e" fill-opacity="0.3"/>
<line x1="129.5" y1="321.5" x2="129.5" y2="328.5" stroke="#ff7f0e" stroke-width="1" stroke-opacity="0.85"/>
<line x1="128" y1="321.5" x2="131" y2="321.5" stroke="#ff7f0e" stroke-width="1" stroke-opacity="0.85"/>
<line x1="128" y1="328.5" x2="131" y2="328.5" stroke="#ff7f0e" stroke-width="1" stroke-opacity="0.85"/>
<line x1="128" y1="325.5" x2="131" y2="325.5" stroke="#ff7f0e" stroke-width="1" stroke-opacity="0.85"/>
<polygon points="151.44,320 151.54,320.3 151.71,320.61 151.95,320.91 152.17,321.22 152.36,321.52 152.56,321.82 152.77,322.13 152.99,322.43 153.19,322.74 153.39,323.04 153.55,323.35 153.68,323.65 153.77,323.95 153.8,324.26 153.78,324.56 153.71,324.87 153.59,325.17 153.44,325.48 153.25,325.78 153.04,326.08 152.69,326.39 152.19,326.69 151.8,327 151.52,327.3 151.28,327.3 151,327 150.61,326.69 150.11,326.39 149.76,326.08 149.55,325.78 149.36,325.48 149.21,325.17 149.09,324.87 149.02,324.56 149,324.26 149.03,323.95 149.12,323.65 149.25,323.35 149.41,323.04 149.61,322.74 149.81,322.43 150.03,322.13 150.24,321.82 150.44,321.52 150.63,321.22 150.85,320.91 151.09,320.61 151.26,320.3 151.36,320" fill="#ff7f0e" fill-opacity="0.3"/>
<line x1="151.5" y1="320.5" x2="151.5" y2="327.5" stroke="#ff7f0e" stroke-width="1" stroke-opacity="0.85"/>
<line x1="150" y1="320.5" x2="153" y2="320.5" stroke="#ff7f0e" stroke-width="1" stroke-opacity="0.85"/>
<line x1="150" y1="327.5" x2="153" y2="327.5" stroke="#ff7f0e" stroke-width="1" stroke-opacity="0.85"/>
<line x1="150" y1="324.5" x2="153" y2="324.5" stroke="#ff7f0e" stroke-width="1" stroke-opacity="0.85"/>
<polygon points="173.44,319.1 173.55,319.44 173.72,319.78 173.97,320.12 174.21,320.47 174.41,320.81 174.62,321.15 174.85,321.49 175.07,321.83 175.28,322.18 175.47,322.52 175.63,322.86 175.74,323.2 175.79,323.54 175.79,323.88 175.73,324.23 175.62,324.57 175.46,324.91 175.27,325.25 175.05,325.59 174.83,325.93 174.48,326.28 174.04,326.62 173.72,326.96 173.49,327.3 173.31,327.3 173.08,326.96 172.76,326.62 172.32,326.28 171.97,325.93 171.75,325.59 171.53,325.25 171.34,324.91 171.18,324.57 171.07,324.23 171.01,323.88 171.01,323.54 171.06,323.2 171.17,322.86 171.33,322.52 171.52,322.18 171.73,321.83 171.95,321.49 172.18,321.15 172.39,320.81 172.59,320.47 172.83,320.12 173.08,319.78 173.25,319.44 173.36,319.1" fill="#ff7f0e" fill-opacity="0.3"/>
<line x1="173.5" y1="319.5" x2="173.5" y2="327.5" stroke="#ff7f0e" stroke-width="1" stroke-opacity="0.85"/>
<line x1="172" y1="319.5" x2="175" y2="319.5" stroke="#ff7f0e" stroke-width="1" stroke-opacity="0.85"/>
<line x1="172" y1="327.5" x2="175" y2="327.5" stroke="#ff7f0e" stroke-width="1" stroke-opacity="0.85"/>
<line x1="172" y1="323.5" x2="175" y2="323.5" stroke="#ff7f0e" stroke-width="1" stroke-opacity="0.85"/>
<polygon points="195.44,317.2 195.54,317.59 195.71,317.97 195.95,318.36 196.17,318.75 196.35,319.14 196.55,319.52 196.76,319.91 196.98,320.3 197.19,320.69 197.38,321.07 197.55,321.46 197.68,321.85 197.76,322.24 197.8,322.62 197.78,323.01 197.72,323.4 197.6,323.79 197.45,324.18 197.26,324.56 197.06,324.95 196.7,325.34 196.2,325.73 195.81,326.11 195.53,326.5 195.27,326.5 194.99,326.11 194.6,325.73 194.1,325.34 193.74,324.95 193.54,324.56 193.35,324.18 193.2,323.79 193.08,323.4 193.02,323.01 193,322.62 193.04,322.24 193.12,321.85 193.25,321.46 193.42,321.07 193.61,320.69 193.82,320.3 194.04,319.91 194.25,319.52 194.45,319.14 194.63,318.75 194.85,318.36 195.09,317.97 195.26,317.59 195.36,317.2" fill="#ff7f0e" fill-opacity="0.3"/>
<line x1="195.5" y1="317.5" x2="195.5" y2="326.5" stroke="#ff7f0e" stroke-width="1" stroke-opacity="0.85"/>
<line x1="194" y1="317.5" x2="197" y2="317.5" stroke="#ff7f0e" stroke-width="1" stroke-opacity="0.85"/>
<line x1="194" y1="326.5" x2="197" y2="326.5" stroke="#ff7f0e" stroke-width="1" stroke-opacity="0.85"/>
<line x1="194" y1="322.5" x2="197" y2="322.5" stroke="#ff7f0e" stroke-width="1" stroke-opacity="0.85"/>
<text x="217" y="205.8" font-size="15" fill="#000" font-weight="bold" style="stroke:#000;stroke-width:0.6">d</text>
<line x1="260.5" y1="209" x2="260.5" y2="333.5" stroke="#808080" stroke-width="1" />
<line x1="260.5" y1="333.5" x2="417.2" y2="333.5" stroke="#808080" stroke-width="1" />
<line x1="256.5" y1="333.2" x2="260.5" y2="333.2" stroke="#808080" stroke-width="1" />
<text x="252.9" y="336" font-size="9.5" fill="#333333" text-anchor="end" textLength="5.45" lengthAdjust="spacingAndGlyphs">0</text>
<line x1="256.5" y1="308.4" x2="260.5" y2="308.4" stroke="#808080" stroke-width="1" />
<text x="252.9" y="311.2" font-size="9.5" fill="#333333" text-anchor="end" textLength="15.3" lengthAdjust="spacingAndGlyphs">100</text>
<line x1="256.5" y1="283.6" x2="260.5" y2="283.6" stroke="#808080" stroke-width="1" />
<text x="252.9" y="286.4" font-size="9.5" fill="#333333" text-anchor="end" textLength="16.35" lengthAdjust="spacingAndGlyphs">200</text>
<line x1="256.5" y1="258.8" x2="260.5" y2="258.8" stroke="#808080" stroke-width="1" />
<text x="252.9" y="261.6" font-size="9.5" fill="#333333" text-anchor="end" textLength="16.35" lengthAdjust="spacingAndGlyphs">300</text>
<line x1="256.5" y1="234" x2="260.5" y2="234" stroke="#808080" stroke-width="1" />
<text x="252.9" y="236.8" font-size="9.5" fill="#333333" text-anchor="end" textLength="16.35" lengthAdjust="spacingAndGlyphs">400</text>
<line x1="256.5" y1="209.2" x2="260.5" y2="209.2" stroke="#808080" stroke-width="1" />
<text x="252.9" y="212" font-size="9.5" fill="#333333" text-anchor="end" textLength="16.35" lengthAdjust="spacingAndGlyphs">500</text>
<line x1="272.6" y1="333.5" x2="272.6" y2="336.5" stroke="#808080" stroke-width="1" />
<text x="272.6" y="347.9" font-size="9.5" fill="#333333" text-anchor="middle" textLength="12.35" lengthAdjust="spacingAndGlyphs">1.0</text>
<line x1="294.6" y1="333.5" x2="294.6" y2="336.5" stroke="#808080" stroke-width="1" />
<text x="294.6" y="347.9" font-size="9.5" fill="#333333" text-anchor="middle" textLength="12.35" lengthAdjust="spacingAndGlyphs">1.5</text>
<line x1="316.6" y1="333.5" x2="316.6" y2="336.5" stroke="#808080" stroke-width="1" />
<text x="316.6" y="347.9" font-size="9.5" fill="#333333" text-anchor="middle" textLength="13.4" lengthAdjust="spacingAndGlyphs">2.0</text>
<line x1="338.6" y1="333.5" x2="338.6" y2="336.5" stroke="#808080" stroke-width="1" />
<text x="338.6" y="347.9" font-size="9.5" fill="#333333" text-anchor="middle" textLength="13.4" lengthAdjust="spacingAndGlyphs">2.5</text>
<line x1="360.6" y1="333.5" x2="360.6" y2="336.5" stroke="#808080" stroke-width="1" />
<text x="360.6" y="347.9" font-size="9.5" fill="#333333" text-anchor="middle" textLength="13.4" lengthAdjust="spacingAndGlyphs">3.0</text>
<line x1="382.6" y1="333.5" x2="382.6" y2="336.5" stroke="#808080" stroke-width="1" />
<text x="382.6" y="347.9" font-size="9.5" fill="#333333" text-anchor="middle" textLength="13.4" lengthAdjust="spacingAndGlyphs">3.5</text>
<line x1="404.6" y1="333.5" x2="404.6" y2="336.5" stroke="#808080" stroke-width="1" />
<text x="404.6" y="347.9" font-size="9.5" fill="#333333" text-anchor="middle" textLength="13.4" lengthAdjust="spacingAndGlyphs">4.0</text>
<text x="314.5" y="363.1" font-size="10" fill="#333333" textLength="50" lengthAdjust="spacingAndGlyphs"><tspan font-style="italic" font-size="10.8">P</tspan><tspan font-size="7.3" dy="3.2">feed,1</tspan><tspan dy="-3.2" font-size="10.5"> (bar)</tspan></text>
<text x="226.4" y="271.25" font-size="10.8" fill="#333333" text-anchor="middle" textLength="115.2" lengthAdjust="spacingAndGlyphs" transform="rotate(-90 226.4 271.25)">OPEX (US$ per ton CO<tspan font-size="7.5" dy="2.5">2</tspan><tspan dy="-2.5">)</tspan></text>
<text x="264.8" y="223" font-size="9.2" fill="#2222ff" textLength="24.8" lengthAdjust="spacingAndGlyphs">NGCC</text>
<text x="264" y="233.6" font-size="9.0" fill="#fa9a48" textLength="45.3" lengthAdjust="spacingAndGlyphs">NGCC-EGR</text>
<polygon points="270.24,258.6 270.37,260.65 270.57,262.69 270.88,264.74 271.18,266.78 271.42,268.83 271.69,270.88 271.96,272.92 272.23,274.97 272.47,277.01 272.67,279.06 272.81,281.1 272.89,283.15 272.89,285.2 272.82,287.24 272.68,289.29 272.48,291.33 272.23,293.38 271.97,295.43 271.69,297.47 271.43,299.52 271.08,301.56 270.7,303.61 270.43,305.65 270.26,307.7 270.14,307.7 269.97,305.65 269.7,303.61 269.32,301.56 268.97,299.52 268.71,297.47 268.43,295.43 268.17,293.38 267.92,291.33 267.72,289.29 267.58,287.24 267.51,285.2 267.51,283.15 267.59,281.1 267.73,279.06 267.93,277.01 268.17,274.97 268.44,272.92 268.71,270.88 268.98,268.83 269.22,266.78 269.52,264.74 269.83,262.69 270.03,260.65 270.16,258.6" fill="#0000ff" fill-opacity="0.35"/>
<line x1="270.5" y1="258.5" x2="270.5" y2="307.5" stroke="#0000ff" stroke-width="1" stroke-opacity="0.75"/>
<line x1="269" y1="258.5" x2="272" y2="258.5" stroke="#0000ff" stroke-width="1" stroke-opacity="0.75"/>
<line x1="269" y1="307.5" x2="272" y2="307.5" stroke="#0000ff" stroke-width="1" stroke-opacity="0.75"/>
<line x1="269" y1="284.5" x2="272" y2="284.5" stroke="#0000ff" stroke-width="1" stroke-opacity="0.75"/>
<polygon points="292.24,265.4 292.37,267.22 292.56,269.05 292.86,270.88 293.14,272.7 293.37,274.52 293.63,276.35 293.89,278.17 294.15,280 294.39,281.82 294.6,283.65 294.76,285.47 294.87,287.3 294.9,289.12 294.86,290.95 294.76,292.77 294.6,294.6 294.39,296.43 294.15,298.25 293.88,300.07 293.62,301.9 293.25,303.72 292.81,305.55 292.49,307.38 292.28,309.2 292.12,309.2 291.91,307.38 291.59,305.55 291.15,303.72 290.78,301.9 290.52,300.07 290.25,298.25 290.01,296.43 289.8,294.6 289.64,292.77 289.54,290.95 289.5,289.12 289.53,287.3 289.64,285.47 289.8,283.65 290.01,281.82 290.25,280 290.51,278.17 290.77,276.35 291.03,274.52 291.26,272.7 291.54,270.88 291.84,269.05 292.03,267.22 292.16,265.4" fill="#0000ff" fill-opacity="0.35"/>
<line x1="292.5" y1="265.5" x2="292.5" y2="309.5" stroke="#0000ff" stroke-width="1" stroke-opacity="0.75"/>
<line x1="291" y1="265.5" x2="294" y2="265.5" stroke="#0000ff" stroke-width="1" stroke-opacity="0.75"/>
<line x1="291" y1="309.5" x2="294" y2="309.5" stroke="#0000ff" stroke-width="1" stroke-opacity="0.75"/>
<line x1="291" y1="289.5" x2="294" y2="289.5" stroke="#0000ff" stroke-width="1" stroke-opacity="0.75"/>
<polygon points="314.24,265.2 314.37,266.99 314.57,268.78 314.87,270.57 315.15,272.37 315.39,274.16 315.65,275.95 315.91,277.74 316.18,279.53 316.42,281.32 316.62,283.12 316.78,284.91 316.87,286.7 316.9,288.49 316.85,290.28 316.74,292.07 316.56,293.87 316.34,295.66 316.09,297.45 315.83,299.24 315.56,301.03 315.2,302.82 314.77,304.62 314.47,306.41 314.28,308.2 314.12,308.2 313.93,306.41 313.63,304.62 313.2,302.82 312.84,301.03 312.57,299.24 312.31,297.45 312.06,295.66 311.84,293.87 311.66,292.07 311.55,290.28 311.5,288.49 311.53,286.7 311.62,284.91 311.78,283.12 311.98,281.32 312.22,279.53 312.49,277.74 312.75,275.95 313.01,274.16 313.25,272.37 313.53,270.57 313.83,268.78 314.03,266.99 314.16,265.2" fill="#0000ff" fill-opacity="0.35"/>
<line x1="314.5" y1="265.5" x2="314.5" y2="308.5" stroke="#0000ff" stroke-width="1" stroke-opacity="0.75"/>
<line x1="313" y1="265.5" x2="316" y2="265.5" stroke="#0000ff" stroke-width="1" stroke-opacity="0.75"/>
<line x1="313" y1="308.5" x2="316" y2="308.5" stroke="#0000ff" stroke-width="1" stroke-opacity="0.75"/>
<line x1="313" y1="288.5" x2="316" y2="288.5" stroke="#0000ff" stroke-width="1" stroke-opacity="0.75"/>
<polygon points="336.24,262.2 336.37,264.09 336.57,265.97 336.87,267.86 337.16,269.75 337.4,271.64 337.66,273.52 337.93,275.41 338.2,277.3 338.44,279.19 338.64,281.07 338.79,282.96 338.88,284.85 338.9,286.74 338.84,288.62 338.71,290.51 338.53,292.4 338.3,294.29 338.05,296.18 337.78,298.06 337.51,299.95 337.15,301.84 336.74,303.73 336.46,305.61 336.27,307.5 336.13,307.5 335.94,305.61 335.66,303.73 335.25,301.84 334.89,299.95 334.62,298.06 334.35,296.18 334.1,294.29 333.87,292.4 333.69,290.51 333.56,288.62 333.5,286.74 333.52,284.85 333.61,282.96 333.76,281.07 333.96,279.19 334.2,277.3 334.47,275.41 334.74,273.52 335,271.64 335.24,269.75 335.53,267.86 335.83,265.97 336.03,264.09 336.16,262.2" fill="#0000ff" fill-opacity="0.35"/>
<line x1="336.5" y1="262.5" x2="336.5" y2="307.5" stroke="#0000ff" stroke-width="1" stroke-opacity="0.75"/>
<line x1="335" y1="262.5" x2="338" y2="262.5" stroke="#0000ff" stroke-width="1" stroke-opacity="0.75"/>
<line x1="335" y1="307.5" x2="338" y2="307.5" stroke="#0000ff" stroke-width="1" stroke-opacity="0.75"/>
<line x1="335" y1="286.5" x2="338" y2="286.5" stroke="#0000ff" stroke-width="1" stroke-opacity="0.75"/>
<polygon points="358.24,257.8 358.37,259.78 358.57,261.77 358.87,263.75 359.15,265.73 359.39,267.72 359.65,269.7 359.92,271.68 360.18,273.67 360.42,275.65 360.63,277.63 360.78,279.62 360.88,281.6 360.9,283.58 360.85,285.57 360.73,287.55 360.55,289.53 360.33,291.52 360.08,293.5 359.81,295.48 359.55,297.47 359.19,299.45 358.76,301.43 358.47,303.42 358.28,305.4 358.12,305.4 357.93,303.42 357.64,301.43 357.21,299.45 356.85,297.47 356.59,295.48 356.32,293.5 356.07,291.52 355.85,289.53 355.67,287.55 355.55,285.57 355.5,283.58 355.52,281.6 355.62,279.62 355.77,277.63 355.98,275.65 356.22,273.67 356.48,271.68 356.75,269.7 357.01,267.72 357.25,265.73 357.53,263.75 357.83,261.77 358.03,259.78 358.16,257.8" fill="#0000ff" fill-opacity="0.35"/>
<line x1="358.5" y1="257.5" x2="358.5" y2="305.5" stroke="#0000ff" stroke-width="1" stroke-opacity="0.75"/>
<line x1="357" y1="257.5" x2="360" y2="257.5" stroke="#0000ff" stroke-width="1" stroke-opacity="0.75"/>
<line x1="357" y1="305.5" x2="360" y2="305.5" stroke="#0000ff" stroke-width="1" stroke-opacity="0.75"/>
<line x1="357" y1="283.5" x2="360" y2="283.5" stroke="#0000ff" stroke-width="1" stroke-opacity="0.75"/>
<polygon points="380.24,253 380.37,255.13 380.57,257.27 380.87,259.4 381.16,261.53 381.4,263.67 381.66,265.8 381.93,267.93 382.19,270.07 382.43,272.2 382.64,274.33 382.79,276.47 382.88,278.6 382.9,280.73 382.84,282.87 382.72,285 382.54,287.13 382.31,289.27 382.06,291.4 381.79,293.53 381.53,295.67 381.17,297.8 380.75,299.93 380.46,302.07 380.27,304.2 380.13,304.2 379.94,302.07 379.65,299.93 379.23,297.8 378.87,295.67 378.61,293.53 378.34,291.4 378.09,289.27 377.86,287.13 377.68,285 377.56,282.87 377.5,280.73 377.52,278.6 377.61,276.47 377.76,274.33 377.97,272.2 378.21,270.07 378.47,267.93 378.74,265.8 379,263.67 379.24,261.53 379.53,259.4 379.83,257.27 380.03,255.13 380.16,253" fill="#0000ff" fill-opacity="0.35"/>
<line x1="380.5" y1="253.5" x2="380.5" y2="304.5" stroke="#0000ff" stroke-width="1" stroke-opacity="0.75"/>
<line x1="379" y1="253.5" x2="382" y2="253.5" stroke="#0000ff" stroke-width="1" stroke-opacity="0.75"/>
<line x1="379" y1="304.5" x2="382" y2="304.5" stroke="#0000ff" stroke-width="1" stroke-opacity="0.75"/>
<line x1="379" y1="280.5" x2="382" y2="280.5" stroke="#0000ff" stroke-width="1" stroke-opacity="0.75"/>
<polygon points="402.24,248 402.37,250.24 402.56,252.48 402.86,254.72 403.14,256.97 403.38,259.21 403.63,261.45 403.9,263.69 404.16,265.93 404.4,268.18 404.61,270.42 404.77,272.66 404.87,274.9 404.9,277.14 404.86,279.38 404.75,281.62 404.59,283.87 404.37,286.11 404.13,288.35 403.87,290.59 403.6,292.83 403.23,295.07 402.8,297.32 402.49,299.56 402.28,301.8 402.12,301.8 401.91,299.56 401.6,297.32 401.17,295.07 400.8,292.83 400.53,290.59 400.27,288.35 400.03,286.11 399.81,283.87 399.65,281.62 399.54,279.38 399.5,277.14 399.53,274.9 399.63,272.66 399.79,270.42 400,268.18 400.24,265.93 400.5,263.69 400.77,261.45 401.02,259.21 401.26,256.97 401.54,254.72 401.84,252.48 402.03,250.24 402.16,248" fill="#0000ff" fill-opacity="0.35"/>
<line x1="402.5" y1="248.5" x2="402.5" y2="301.5" stroke="#0000ff" stroke-width="1" stroke-opacity="0.75"/>
<line x1="401" y1="248.5" x2="404" y2="248.5" stroke="#0000ff" stroke-width="1" stroke-opacity="0.75"/>
<line x1="401" y1="301.5" x2="404" y2="301.5" stroke="#0000ff" stroke-width="1" stroke-opacity="0.75"/>
<line x1="401" y1="277.5" x2="404" y2="277.5" stroke="#0000ff" stroke-width="1" stroke-opacity="0.75"/>
<polygon points="275.84,300.6 275.95,301.5 276.12,302.39 276.38,303.29 276.63,304.18 276.83,305.08 277.05,305.98 277.28,306.87 277.51,307.77 277.72,308.66 277.91,309.56 278.06,310.45 278.16,311.35 278.2,312.25 278.18,313.14 278.1,314.04 277.97,314.93 277.79,315.83 277.59,316.73 277.36,317.62 277.13,318.52 276.79,319.41 276.38,320.31 276.08,321.2 275.88,322.1 275.72,322.1 275.52,321.2 275.22,320.31 274.81,319.41 274.47,318.52 274.24,317.62 274.01,316.73 273.81,315.83 273.63,314.93 273.5,314.04 273.42,313.14 273.4,312.25 273.44,311.35 273.54,310.45 273.69,309.56 273.88,308.66 274.09,307.77 274.32,306.87 274.55,305.98 274.77,305.08 274.97,304.18 275.22,303.29 275.48,302.39 275.65,301.5 275.76,300.6" fill="#ff7f0e" fill-opacity="0.3"/>
<line x1="275.5" y1="300.5" x2="275.5" y2="322.5" stroke="#ff7f0e" stroke-width="1" stroke-opacity="0.85"/>
<line x1="274" y1="300.5" x2="277" y2="300.5" stroke="#ff7f0e" stroke-width="1" stroke-opacity="0.85"/>
<line x1="274" y1="322.5" x2="277" y2="322.5" stroke="#ff7f0e" stroke-width="1" stroke-opacity="0.85"/>
<line x1="274" y1="312.5" x2="277" y2="312.5" stroke="#ff7f0e" stroke-width="1" stroke-opacity="0.85"/>
<polygon points="297.84,305.5 297.95,306.23 298.12,306.95 298.37,307.68 298.61,308.4 298.8,309.12 299.02,309.85 299.24,310.57 299.46,311.3 299.68,312.02 299.87,312.75 300.02,313.47 300.13,314.2 300.19,314.93 300.19,315.65 300.14,316.38 300.03,317.1 299.87,317.82 299.68,318.55 299.47,319.27 299.25,320 298.9,320.72 298.46,321.45 298.13,322.17 297.9,322.9 297.7,322.9 297.47,322.17 297.14,321.45 296.7,320.72 296.35,320 296.13,319.27 295.92,318.55 295.73,317.82 295.57,317.1 295.46,316.38 295.41,315.65 295.41,314.93 295.47,314.2 295.58,313.47 295.73,312.75 295.92,312.02 296.14,311.3 296.36,310.57 296.58,309.85 296.8,309.12 296.99,308.4 297.23,307.68 297.48,306.95 297.65,306.23 297.76,305.5" fill="#ff7f0e" fill-opacity="0.3"/>
<line x1="297.5" y1="305.5" x2="297.5" y2="322.5" stroke="#ff7f0e" stroke-width="1" stroke-opacity="0.85"/>
<line x1="296" y1="305.5" x2="299" y2="305.5" stroke="#ff7f0e" stroke-width="1" stroke-opacity="0.85"/>
<line x1="296" y1="322.5" x2="299" y2="322.5" stroke="#ff7f0e" stroke-width="1" stroke-opacity="0.85"/>
<line x1="296" y1="315.5" x2="299" y2="315.5" stroke="#ff7f0e" stroke-width="1" stroke-opacity="0.85"/>
<polygon points="319.84,305.5 319.95,306.23 320.12,306.95 320.37,307.68 320.61,308.4 320.8,309.12 321.02,309.85 321.24,310.57 321.46,311.3 321.68,312.02 321.87,312.75 322.02,313.47 322.13,314.2 322.19,314.93 322.19,315.65 322.14,316.38 322.03,317.1 321.87,317.82 321.68,318.55 321.47,319.27 321.25,320 320.9,320.72 320.46,321.45 320.13,322.17 319.9,322.9 319.7,322.9 319.47,322.17 319.14,321.45 318.7,320.72 318.35,320 318.13,319.27 317.92,318.55 317.73,317.82 317.57,317.1 317.46,316.38 317.41,315.65 317.41,314.93 317.47,314.2 317.58,313.47 317.73,312.75 317.92,312.02 318.14,311.3 318.36,310.57 318.58,309.85 318.8,309.12 318.99,308.4 319.23,307.68 319.48,306.95 319.65,306.23 319.76,305.5" fill="#ff7f0e" fill-opacity="0.3"/>
<line x1="319.5" y1="305.5" x2="319.5" y2="322.5" stroke="#ff7f0e" stroke-width="1" stroke-opacity="0.85"/>
<line x1="318" y1="305.5" x2="321" y2="305.5" stroke="#ff7f0e" stroke-width="1" stroke-opacity="0.85"/>
<line x1="318" y1="322.5" x2="321" y2="322.5" stroke="#ff7f0e" stroke-width="1" stroke-opacity="0.85"/>
<line x1="318" y1="315.5" x2="321" y2="315.5" stroke="#ff7f0e" stroke-width="1" stroke-opacity="0.85"/>
<polygon points="341.84,304.3 341.95,305.04 342.12,305.78 342.37,306.53 342.61,307.27 342.8,308.01 343.02,308.75 343.24,309.49 343.47,310.23 343.68,310.98 343.87,311.72 344.03,312.46 344.14,313.2 344.19,313.94 344.19,314.68 344.13,315.43 344.02,316.17 343.87,316.91 343.67,317.65 343.46,318.39 343.24,319.13 342.89,319.88 342.45,320.62 342.12,321.36 341.89,322.1 341.71,322.1 341.48,321.36 341.15,320.62 340.71,319.88 340.36,319.13 340.14,318.39 339.93,317.65 339.73,316.91 339.58,316.17 339.47,315.43 339.41,314.68 339.41,313.94 339.46,313.2 339.57,312.46 339.73,311.72 339.92,310.98 340.13,310.23 340.36,309.49 340.58,308.75 340.8,308.01 340.99,307.27 341.23,306.53 341.48,305.78 341.65,305.04 341.76,304.3" fill="#ff7f0e" fill-opacity="0.3"/>
<line x1="341.5" y1="304.5" x2="341.5" y2="322.5" stroke="#ff7f0e" stroke-width="1" stroke-opacity="0.85"/>
<line x1="340" y1="304.5" x2="343" y2="304.5" stroke="#ff7f0e" stroke-width="1" stroke-opacity="0.85"/>
<line x1="340" y1="322.5" x2="343" y2="322.5" stroke="#ff7f0e" stroke-width="1" stroke-opacity="0.85"/>
<line x1="340" y1="314.5" x2="343" y2="314.5" stroke="#ff7f0e" stroke-width="1" stroke-opacity="0.85"/>
<polygon points="363.84,302.4 363.95,303.18 364.12,303.97 364.38,304.75 364.62,305.53 364.82,306.32 365.04,307.1 365.27,307.88 365.5,308.67 365.71,309.45 365.9,310.23 366.05,311.02 366.15,311.8 366.2,312.58 366.18,313.37 366.11,314.15 365.99,314.93 365.82,315.72 365.62,316.5 365.39,317.28 365.17,318.07 364.83,318.85 364.4,319.63 364.09,320.42 363.89,321.2 363.71,321.2 363.51,320.42 363.2,319.63 362.77,318.85 362.43,318.07 362.21,317.28 361.98,316.5 361.78,315.72 361.61,314.93 361.49,314.15 361.42,313.37 361.4,312.58 361.45,311.8 361.55,311.02 361.7,310.23 361.89,309.45 362.1,308.67 362.33,307.88 362.56,307.1 362.78,306.32 362.98,305.53 363.22,304.75 363.48,303.97 363.65,303.18 363.76,302.4" fill="#ff7f0e" fill-opacity="0.3"/>
<line x1="363.5" y1="302.5" x2="363.5" y2="321.5" stroke="#ff7f0e" stroke-width="1" stroke-opacity="0.85"/>
<line x1="362" y1="302.5" x2="365" y2="302.5" stroke="#ff7f0e" stroke-width="1" stroke-opacity="0.85"/>
<line x1="362" y1="321.5" x2="365" y2="321.5" stroke="#ff7f0e" stroke-width="1" stroke-opacity="0.85"/>
<line x1="362" y1="312.5" x2="365" y2="312.5" stroke="#ff7f0e" stroke-width="1" stroke-opacity="0.85"/>
<polygon points="385.85,300.9 385.99,301.75 386.22,302.59 386.55,303.44 386.86,304.28 387.09,305.13 387.34,305.97 387.58,306.82 387.8,307.67 387.98,308.51 388.12,309.36 388.19,310.2 388.19,311.05 388.13,311.9 388.01,312.74 387.83,313.59 387.62,314.43 387.38,315.28 387.13,316.12 386.9,316.97 386.67,317.82 386.41,318.66 386.13,319.51 385.95,320.35 385.84,321.2 385.76,321.2 385.65,320.35 385.47,319.51 385.19,318.66 384.93,317.82 384.7,316.97 384.47,316.12 384.22,315.28 383.98,314.43 383.77,313.59 383.59,312.74 383.47,311.9 383.41,311.05 383.41,310.2 383.48,309.36 383.62,308.51 383.8,307.67 384.02,306.82 384.26,305.97 384.51,305.13 384.74,304.28 385.05,303.44 385.38,302.59 385.61,301.75 385.75,300.9" fill="#ff7f0e" fill-opacity="0.3"/>
<line x1="385.5" y1="300.5" x2="385.5" y2="321.5" stroke="#ff7f0e" stroke-width="1" stroke-opacity="0.85"/>
<line x1="384" y1="300.5" x2="387" y2="300.5" stroke="#ff7f0e" stroke-width="1" stroke-opacity="0.85"/>
<line x1="384" y1="321.5" x2="387" y2="321.5" stroke="#ff7f0e" stroke-width="1" stroke-opacity="0.85"/>
<line x1="384" y1="310.5" x2="387" y2="310.5" stroke="#ff7f0e" stroke-width="1" stroke-opacity="0.85"/>
<polygon points="407.84,295.2 407.95,296.2 408.12,297.19 408.38,298.19 408.63,299.18 408.83,300.18 409.05,301.18 409.28,302.17 409.51,303.17 409.73,304.16 409.91,305.16 410.06,306.15 410.16,307.15 410.2,308.15 410.18,309.14 410.1,310.14 409.97,311.13 409.79,312.13 409.58,313.12 409.35,314.12 409.12,315.12 408.79,316.11 408.38,317.11 408.08,318.1 407.88,319.1 407.72,319.1 407.52,318.1 407.22,317.11 406.81,316.11 406.48,315.12 406.25,314.12 406.02,313.12 405.81,312.13 405.63,311.13 405.5,310.14 405.42,309.14 405.4,308.15 405.44,307.15 405.54,306.15 405.69,305.16 405.87,304.16 406.09,303.17 406.32,302.17 406.55,301.18 406.77,300.18 406.97,299.18 407.22,298.19 407.48,297.19 407.65,296.2 407.76,295.2" fill="#ff7f0e" fill-opacity="0.3"/>
<line x1="407.5" y1="295.5" x2="407.5" y2="319.5" stroke="#ff7f0e" stroke-width="1" stroke-opacity="0.85"/>
<line x1="406" y1="295.5" x2="409" y2="295.5" stroke="#ff7f0e" stroke-width="1" stroke-opacity="0.85"/>
<line x1="406" y1="319.5" x2="409" y2="319.5" stroke="#ff7f0e" stroke-width="1" stroke-opacity="0.85"/>
<line x1="406" y1="308.5" x2="409" y2="308.5" stroke="#ff7f0e" stroke-width="1" stroke-opacity="0.85"/>
<text x="425.1" y="206" font-size="15" fill="#000" font-weight="bold" style="stroke:#000;stroke-width:0.6">e</text>
<line x1="477.5" y1="208" x2="477.5" y2="333.5" stroke="#808080" stroke-width="1" />
<line x1="477.5" y1="333.5" x2="652.7" y2="333.5" stroke="#808080" stroke-width="1" />
<line x1="473.5" y1="333.2" x2="477.5" y2="333.2" stroke="#808080" stroke-width="1" />
<text x="470" y="336" font-size="9.5" fill="#333333" text-anchor="end" textLength="5.45" lengthAdjust="spacingAndGlyphs">0</text>
<line x1="473.5" y1="308.2" x2="477.5" y2="308.2" stroke="#808080" stroke-width="1" />
<text x="470" y="311" font-size="9.5" fill="#333333" text-anchor="end" textLength="15.3" lengthAdjust="spacingAndGlyphs">100</text>
<line x1="473.5" y1="283.2" x2="477.5" y2="283.2" stroke="#808080" stroke-width="1" />
<text x="470" y="286" font-size="9.5" fill="#333333" text-anchor="end" textLength="16.35" lengthAdjust="spacingAndGlyphs">200</text>
<line x1="473.5" y1="258.2" x2="477.5" y2="258.2" stroke="#808080" stroke-width="1" />
<text x="470" y="261" font-size="9.5" fill="#333333" text-anchor="end" textLength="16.35" lengthAdjust="spacingAndGlyphs">300</text>
<line x1="473.5" y1="233.2" x2="477.5" y2="233.2" stroke="#808080" stroke-width="1" />
<text x="470" y="236" font-size="9.5" fill="#333333" text-anchor="end" textLength="16.35" lengthAdjust="spacingAndGlyphs">400</text>
<line x1="473.5" y1="208.2" x2="477.5" y2="208.2" stroke="#808080" stroke-width="1" />
<text x="470" y="211" font-size="9.5" fill="#333333" text-anchor="end" textLength="16.35" lengthAdjust="spacingAndGlyphs">500</text>
<line x1="485.7" y1="333.5" x2="485.7" y2="336.5" stroke="#808080" stroke-width="1" />
<text x="485.7" y="347.9" font-size="9.5" fill="#333333" text-anchor="middle" textLength="12.35" lengthAdjust="spacingAndGlyphs">1.0</text>
<line x1="527.3" y1="333.5" x2="527.3" y2="336.5" stroke="#808080" stroke-width="1" />
<text x="527.3" y="347.9" font-size="9.5" fill="#333333" text-anchor="middle" textLength="13.4" lengthAdjust="spacingAndGlyphs">2.0</text>
<line x1="568.9" y1="333.5" x2="568.9" y2="336.5" stroke="#808080" stroke-width="1" />
<text x="568.9" y="347.9" font-size="9.5" fill="#333333" text-anchor="middle" textLength="13.4" lengthAdjust="spacingAndGlyphs">3.0</text>
<line x1="610.5" y1="333.5" x2="610.5" y2="336.5" stroke="#808080" stroke-width="1" />
<text x="610.5" y="347.9" font-size="9.5" fill="#333333" text-anchor="middle" textLength="13.4" lengthAdjust="spacingAndGlyphs">4.0</text>
<line x1="652.1" y1="333.5" x2="652.1" y2="336.5" stroke="#808080" stroke-width="1" />
<text x="652.1" y="347.9" font-size="9.5" fill="#333333" text-anchor="middle" textLength="13.4" lengthAdjust="spacingAndGlyphs">5.0</text>
<text x="539.6" y="363.1" font-size="10" fill="#333333" textLength="50" lengthAdjust="spacingAndGlyphs"><tspan font-style="italic" font-size="10.8">P</tspan><tspan font-size="7.3" dy="3.2">feed,1</tspan><tspan dy="-3.2" font-size="10.5"> (bar)</tspan></text>
<text x="434" y="270.65" font-size="10.8" fill="#333333" text-anchor="middle" textLength="61.2" lengthAdjust="spacingAndGlyphs" transform="rotate(-90 434 270.65)">Capture cost</text>
<text x="446.2" y="270.2" font-size="10.8" fill="#333333" text-anchor="middle" textLength="86.5" lengthAdjust="spacingAndGlyphs" transform="rotate(-90 446.2 270.2)">(US$ per ton CO<tspan font-size="7.5" dy="2.5">2</tspan><tspan dy="-2.5">)</tspan></text>
<polygon points="485.7,229.8 506.5,240.6 508.11,240.46 510.26,240.28 512.81,240.08 515.64,239.84 518.64,239.57 521.69,239.26 524.64,238.9 527.4,238.5 530.01,238.04 532.62,237.51 535.24,236.93 537.85,236.32 540.46,235.68 543.07,235.04 545.69,234.41 548.3,233.8 550.91,233.21 553.53,232.62 556.14,232.03 558.76,231.44 561.37,230.84 563.98,230.24 566.59,229.62 569.2,229 571.8,228.37 574.4,227.74 577,227.1 579.59,226.45 582.19,225.79 584.79,225.11 587.39,224.42 590,223.7 592.76,222.91 595.73,222.03 598.78,221.1 601.8,220.17 604.65,219.28 607.22,218.48 609.38,217.8 611,217.3 611,284.9 609.38,285.11 607.22,285.38 604.65,285.72 601.8,286.08 598.78,286.46 595.73,286.84 592.76,287.19 590,287.5 587.39,287.77 584.79,288.03 582.19,288.28 579.59,288.51 577,288.74 574.4,288.96 571.8,289.18 569.2,289.4 566.59,289.61 563.98,289.82 561.37,290.02 558.76,290.22 556.14,290.41 553.53,290.61 550.91,290.8 548.3,291 545.69,291.2 543.07,291.4 540.46,291.61 537.85,291.81 535.24,292.01 532.62,292.21 530.01,292.41 527.4,292.6 524.64,292.79 521.69,293 518.64,293.2 515.64,293.4 512.81,293.59 510.26,293.75 508.11,293.89 506.5,294 485.7,296.3" fill="#0000ff" fill-opacity="0.5"/>
<polygon points="485.7,287.8 506.5,293.9 508.11,293.8 510.26,293.67 512.81,293.52 515.64,293.35 518.64,293.17 521.69,292.98 524.64,292.79 527.4,292.6 530.01,292.41 532.62,292.22 535.24,292.02 537.85,291.82 540.46,291.61 543.07,291.41 545.69,291.2 548.3,291 550.91,290.8 553.53,290.61 556.14,290.42 558.76,290.23 561.37,290.04 563.98,289.84 566.59,289.62 569.2,289.4 571.8,289.19 574.4,289.02 577,288.85 579.59,288.67 582.19,288.45 584.79,288.16 587.39,287.79 590,287.3 592.76,286.64 595.73,285.79 598.78,284.83 601.8,283.82 604.65,282.82 607.22,281.91 609.38,281.15 611,280.6 611,310 609.38,310.24 607.22,310.56 604.65,310.95 601.8,311.38 598.78,311.82 595.73,312.26 592.76,312.66 590,313 587.39,313.29 584.79,313.55 582.19,313.79 579.59,314.01 577,314.23 574.4,314.44 571.8,314.67 569.2,314.9 566.59,315.15 563.98,315.42 561.37,315.69 558.76,315.96 556.14,316.22 553.53,316.47 550.91,316.7 548.3,316.9 545.69,317.08 543.07,317.24 540.46,317.39 537.85,317.52 535.24,317.64 532.62,317.74 530.01,317.83 527.4,317.9 524.64,317.95 521.69,317.97 518.64,317.97 515.64,317.96 512.81,317.94 510.26,317.92 508.11,317.91 506.5,317.9 485.7,316.9" fill="#ffa000" fill-opacity="0.5"/>
<polyline points="485.7,250.2 506.5,255.7 508.11,255.59 510.26,255.46 512.81,255.31 515.64,255.14 518.64,254.93 521.69,254.69 524.64,254.42 527.4,254.1 530.01,253.73 532.62,253.31 535.24,252.85 537.85,252.36 540.46,251.85 543.07,251.33 545.69,250.81 548.3,250.3 550.91,249.8 553.53,249.29 556.14,248.78 558.76,248.26 561.37,247.73 563.98,247.19 566.59,246.65 569.2,246.1 571.8,245.56 574.4,245.04 577,244.53 579.59,244 582.19,243.44 584.79,242.83 587.39,242.16 590,241.4 592.76,240.49 595.73,239.4 598.78,238.22 601.8,237.01 604.65,235.83 607.22,234.76 609.38,233.86 611,233.2" fill="none" stroke="#0000ff" stroke-width="1.1" stroke-dasharray="1,1.6" stroke-linejoin="round" />
<polyline points="485.7,263.7 506.5,268.1 508.11,267.95 510.26,267.76 512.81,267.53 515.64,267.28 518.64,267 521.69,266.7 524.64,266.4 527.4,266.1 530.01,265.79 532.62,265.47 535.24,265.14 537.85,264.79 540.46,264.44 543.07,264.07 545.69,263.69 548.3,263.3 550.91,262.9 553.53,262.48 556.14,262.05 558.76,261.61 561.37,261.17 563.98,260.71 566.59,260.26 569.2,259.8 571.8,259.36 574.4,258.93 577,258.5 579.59,258.07 582.19,257.61 584.79,257.13 587.39,256.59 590,256 592.76,255.3 595.73,254.47 598.78,253.58 601.8,252.66 604.65,251.78 607.22,250.97 609.38,250.29 611,249.8" fill="none" stroke="#0000ff" stroke-width="1.1" stroke-dasharray="5,1.5,1,1.5" stroke-linejoin="round" />
<polyline points="485.7,265.8 506.5,270.9 508.11,270.76 510.26,270.59 512.81,270.39 515.64,270.16 518.64,269.9 521.69,269.62 524.64,269.32 527.4,269 530.01,268.66 532.62,268.28 535.24,267.87 537.85,267.44 540.46,267.01 543.07,266.56 545.69,266.13 548.3,265.7 550.91,265.28 553.53,264.87 556.14,264.45 558.76,264.03 561.37,263.61 563.98,263.18 566.59,262.74 569.2,262.3 571.8,261.86 574.4,261.42 577,260.99 579.59,260.54 582.19,260.08 584.79,259.59 587.39,259.07 590,258.5 592.76,257.84 595.73,257.07 598.78,256.25 601.8,255.41 604.65,254.6 607.22,253.87 609.38,253.25 611,252.8" fill="none" stroke="#0000ff" stroke-width="1.1" stroke-linejoin="round" />
<polyline points="485.7,272.2 506.5,276.8 508.11,276.65 510.26,276.45 512.81,276.22 515.64,275.96 518.64,275.67 521.69,275.36 524.64,275.03 527.4,274.7 530.01,274.35 532.62,273.96 535.24,273.55 537.85,273.13 540.46,272.7 543.07,272.26 545.69,271.83 548.3,271.4 550.91,270.98 553.53,270.54 556.14,270.11 558.76,269.67 561.37,269.24 563.98,268.81 566.59,268.4 569.2,268 571.8,267.63 574.4,267.3 577,266.99 579.59,266.68 582.19,266.36 584.79,266.02 587.39,265.64 590,265.2 592.76,264.67 595.73,264.05 598.78,263.37 601.8,262.67 604.65,262 607.22,261.39 609.38,260.88 611,260.5" fill="none" stroke="#0000ff" stroke-width="1.1" stroke-dasharray="3.5,2" stroke-linejoin="round" />
<polyline points="485.7,297.5 506.5,299.9 508.11,299.91 510.26,299.92 512.81,299.94 515.64,299.95 518.64,299.96 521.69,299.96 524.64,299.94 527.4,299.9 530.01,299.84 532.62,299.77 535.24,299.68 537.85,299.57 540.46,299.46 543.07,299.35 545.69,299.22 548.3,299.1 550.91,298.98 553.53,298.86 556.14,298.74 558.76,298.61 561.37,298.46 563.98,298.3 566.59,298.11 569.2,297.9 571.8,297.68 574.4,297.49 577,297.28 579.59,297.05 582.19,296.77 584.79,296.41 587.39,295.97 590,295.4 592.76,294.64 595.73,293.68 598.78,292.59 601.8,291.44 604.65,290.32 607.22,289.29 609.38,288.42 611,287.8" fill="none" stroke="#ffa000" stroke-width="1.1" stroke-dasharray="1,1.6" stroke-linejoin="round" />
<polyline points="485.7,302.8 506.5,305.2 508.11,305.19 510.26,305.18 512.81,305.17 515.64,305.16 518.64,305.14 521.69,305.1 524.64,305.06 527.4,305 530.01,304.92 532.62,304.84 535.24,304.74 537.85,304.62 540.46,304.5 543.07,304.38 545.69,304.24 548.3,304.1 550.91,303.95 553.53,303.8 556.14,303.64 558.76,303.48 561.37,303.3 563.98,303.11 566.59,302.91 569.2,302.7 571.8,302.49 574.4,302.29 577,302.09 579.59,301.87 582.19,301.62 584.79,301.34 587.39,301 590,300.6 592.76,300.09 595.73,299.46 598.78,298.75 601.8,298.02 604.65,297.3 607.22,296.65 609.38,296.1 611,295.7" fill="none" stroke="#ffa000" stroke-width="1.1" stroke-dasharray="5,1.5,1,1.5" stroke-linejoin="round" />
<polyline points="485.7,303.9 506.5,306.3 508.11,306.29 510.26,306.28 512.81,306.27 515.64,306.26 518.64,306.24 521.69,306.2 524.64,306.16 527.4,306.1 530.01,306.02 532.62,305.94 535.24,305.84 537.85,305.73 540.46,305.6 543.07,305.48 545.69,305.34 548.3,305.2 550.91,305.05 553.53,304.9 556.14,304.74 558.76,304.58 561.37,304.4 563.98,304.21 566.59,304.01 569.2,303.8 571.8,303.58 574.4,303.37 577,303.15 579.59,302.92 582.19,302.66 584.79,302.38 587.39,302.06 590,301.7 592.76,301.26 595.73,300.72 598.78,300.13 601.8,299.52 604.65,298.93 607.22,298.38 609.38,297.93 611,297.6" fill="none" stroke="#ffa000" stroke-width="1.1" stroke-linejoin="round" />
<polyline points="485.7,307.1 506.5,309.3 508.11,309.31 510.26,309.32 512.81,309.34 515.64,309.36 518.64,309.37 521.69,309.37 524.64,309.35 527.4,309.3 530.01,309.22 532.62,309.13 535.24,309.01 537.85,308.88 540.46,308.73 543.07,308.59 545.69,308.44 548.3,308.3 550.91,308.17 553.53,308.04 556.14,307.92 558.76,307.79 561.37,307.65 563.98,307.5 566.59,307.31 569.2,307.1 571.8,306.86 574.4,306.62 577,306.35 579.59,306.06 582.19,305.75 584.79,305.4 587.39,305.02 590,304.6 592.76,304.09 595.73,303.49 598.78,302.83 601.8,302.14 604.65,301.48 607.22,300.88 609.38,300.37 611,300" fill="none" stroke="#ffa000" stroke-width="1.1" stroke-dasharray="3.5,2" stroke-linejoin="round" />
<text x="510.5" y="233.2" font-size="8.8" fill="#0000ff">NGCC</text>
<text x="510.8" y="328.8" font-size="8.6" fill="#f7a440" textLength="44.5" lengthAdjust="spacingAndGlyphs">NGCC-EGR</text>
<text x="614.6" y="236.1" font-size="8.0" fill="#0000ff">0.11 US$ per kWh</text>
<text x="614.6" y="250.9" font-size="8.0" fill="#0000ff">0.081 US$ per kWh</text>
<text x="614.6" y="263.8" font-size="8.0" fill="#0000ff">0.061 US$ per kWh</text>
<text x="614.6" y="289.8" font-size="8.0" fill="#f7a440">0.11 US$ per kWh</text>
<text x="614.6" y="296.9" font-size="8.0" fill="#f7a440">0.081 US$ per kWh</text>
<text x="614.6" y="303.9" font-size="8.0" fill="#f7a440">0.061 US$ per kWh</text>
</svg>
</body></html>
